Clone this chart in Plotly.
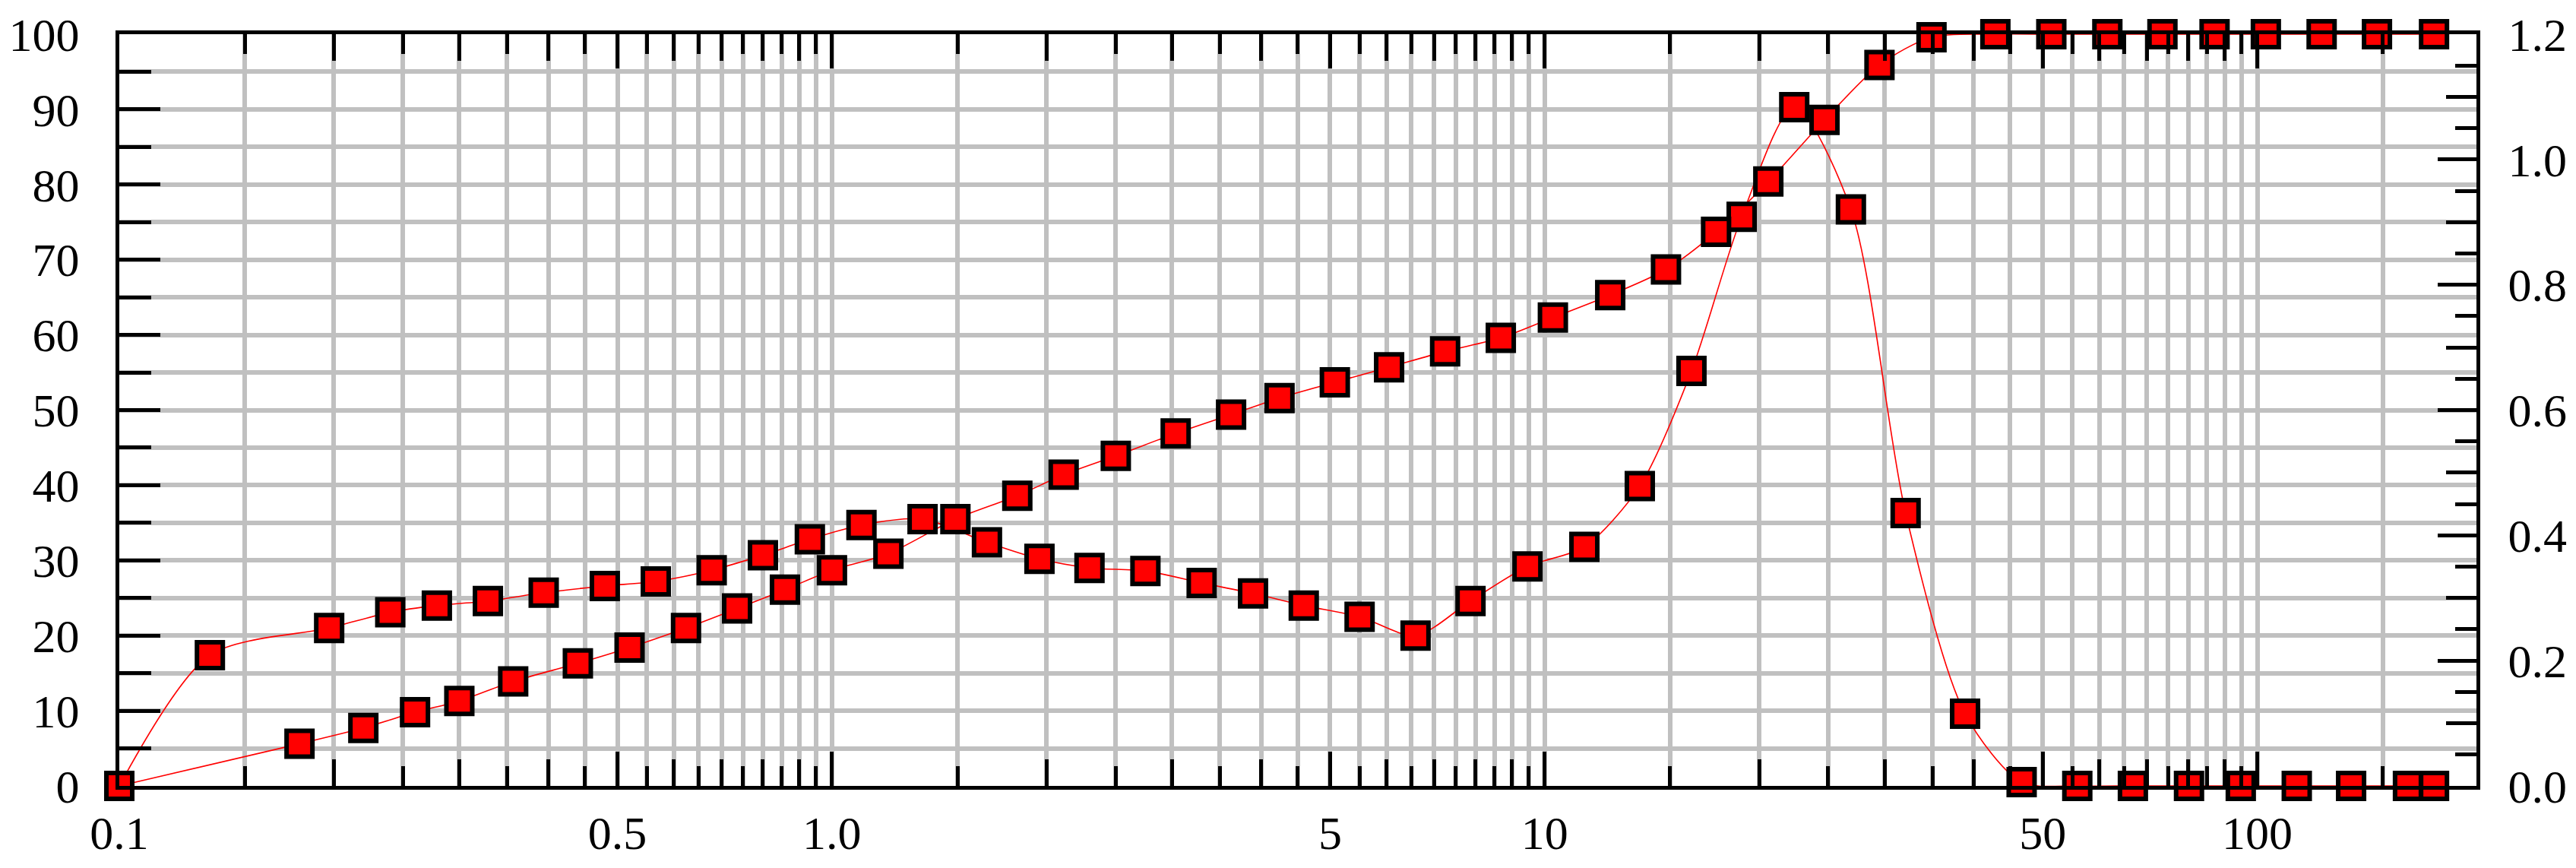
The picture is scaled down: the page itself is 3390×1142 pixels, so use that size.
"""Particle size distribution chart: frequency + cumulative curves on a log size axis.

Writes out.html (plotly.js inline).
"""

import plotly.graph_objects as go

# --------------------------------------------------------------------------------------
# Data
# --------------------------------------------------------------------------------------

# frequency curve, read in left-axis units
FREQ_SIZE = [0.1, 0.134, 0.197, 0.240, 0.279, 0.329, 0.394, 0.480, 0.566, 0.678,
             0.800, 0.931, 1.10, 1.34, 1.65, 1.955, 2.298, 2.753, 3.302, 3.898,
             4.592, 5.50, 6.59, 7.87, 9.46, 11.37, 13.6, 16.07, 18.9, 22.4,
             26.9, 32.1, 38.9, 46.7, 55.9, 66.9, 80.2, 94.8, 113.6, 135.4,
             162.7, 177.0]
FREQ_VALUE = [0, 17.4, 21.0, 23.1, 24.0, 24.6, 25.7, 26.6, 27.2, 28.7,
              30.7, 32.8, 34.7, 35.5, 32.4, 30.2, 29.0, 28.6, 27.0, 25.6,
              24.0, 22.5, 20.0, 24.6, 29.2, 31.8, 39.9, 55.2, 75.7, 90.3,
              76.7, 36.3, 9.6, 0.5, 0, 0, 0, 0, 0, 0,
              0, 0]

# cumulative curve
CUM_SIZE = [0.1, 0.179, 0.220, 0.260, 0.300, 0.357, 0.440, 0.520, 0.624, 0.736,
            0.859, 1.00, 1.20, 1.49, 1.82, 2.114, 2.502, 3.036, 3.631, 4.246,
            5.077, 6.05, 7.25, 8.68, 10.27, 12.36, 14.8, 17.4, 20.6, 24.7,
            29.5, 34.9, 42.9, 51.4, 61.6, 73.6, 87.1, 102.8, 123.1, 147.2,
            177.0]
CUM_VALUE = [0, 5.6, 7.7, 9.8, 11.3, 13.9, 16.3, 18.4, 21.0, 23.6,
             26.1, 28.7, 30.9, 35.5, 38.6, 41.4, 43.9, 46.9, 49.4, 51.6,
             53.7, 55.7, 57.8, 59.6, 62.3, 65.3, 68.7, 73.7, 80.4, 88.6,
             95.9, 99.6, 100, 100, 100, 100, 100, 100, 100, 100,
             100]

X_TICKS = [0.1, 0.5, 1, 5, 10, 50, 100]
X_TICK_TEXT = ["0.1", "0.5", "1.0", "5", "10", "50", "100"]
Y_TICKS = [0, 10, 20, 30, 40, 50, 60, 70, 80, 90, 100]
Y2_TICKS = [0, 0.2, 0.4, 0.6, 0.8, 1.0, 1.2]
Y2_TICK_TEXT = ["0.0", "0.2", "0.4", "0.6", "0.8", "1.0", "1.2"]
Y2_MID_TICKS = [0.1, 0.3, 0.5, 0.7, 0.9, 1.1]

WIDTH, HEIGHT = 3390, 1142
FONT = dict(family="Liberation Serif", size=62, color="black")
GRID = "#c0c0c0"
RED = "#ff0000"
LW = 5  # axis line / tick thickness


def _x_half_steps() -> list[float]:
    # 0.15, 0.2, ... 0.95, 1.5, ... 95, plus 150 (gridlines + short ticks)
    vals = []
    for base in (0.1, 1, 10):
        for k in range(3, 20):
            v = round(base * k / 2, 4)
            if v not in X_TICKS:
                vals.append(v)
    vals.append(150)
    return vals


def _x_whole_steps() -> list[float]:
    # 0.2, 0.3, 0.4, 0.6 ... 90 (medium ticks)
    return [round(base * k, 4) for base in (0.1, 1, 10) for k in (2, 3, 4, 6, 7, 8, 9)]


def build() -> go.Figure:
    fig = go.Figure()
    # lines first so every square sits on top of both curves
    for xs, ys in ((FREQ_SIZE, FREQ_VALUE), (CUM_SIZE, CUM_VALUE)):
        fig.add_trace(go.Scatter(
            x=xs, y=ys, mode="lines",
            line=dict(color=RED, width=1.6, shape="spline", smoothing=0.8),
            showlegend=False, hoverinfo="skip",
        ))
    for xs, ys in ((FREQ_SIZE, FREQ_VALUE), (CUM_SIZE, CUM_VALUE)):
        fig.add_trace(go.Scatter(
            x=xs, y=ys, mode="markers", cliponaxis=False,
            marker=dict(symbol="square", size=34, color=RED,
                        line=dict(color="black", width=6)),
            showlegend=False,
        ))
    # empty traces so the extra tick-only axes get drawn
    fig.add_trace(go.Scatter(x=[], y=[], yaxis="y2", showlegend=False, hoverinfo="skip"))
    fig.add_trace(go.Scatter(x=[], y=[], yaxis="y3", showlegend=False, hoverinfo="skip"))
    fig.add_trace(go.Scatter(x=[], y=[], xaxis="x2", showlegend=False, hoverinfo="skip"))

    tick_style = dict(ticks="inside", tickwidth=LW, tickcolor="black")
    line_style = dict(showline=True, linecolor="black", linewidth=LW, zeroline=False)

    fig.update_layout(
        width=WIDTH, height=HEIGHT,
        margin=dict(l=154, r=117, t=45, b=100),
        paper_bgcolor="white", plot_bgcolor="white",
        font=FONT,
        xaxis=dict(
            type="log", range=[-1, 2.3075],
            tickmode="array", tickvals=X_TICKS, ticktext=X_TICK_TEXT,
            ticklen=45, mirror="ticks", **tick_style, **line_style,
            showgrid=True, gridcolor=GRID, gridwidth=5.5,
            ticklabelstandoff=4,
            minor=dict(tickmode="array", tickvals=_x_half_steps(), ticklen=26,
                       showgrid=True, gridcolor=GRID, gridwidth=5.5, **tick_style),
        ),
        xaxis2=dict(
            type="log", range=[-1, 2.3075], overlaying="x", anchor="y",
            tickmode="array", tickvals=_x_whole_steps(), ticklen=35,
            mirror="ticks", showticklabels=False, showgrid=False,
            **tick_style, **line_style,
        ),
        yaxis=dict(
            range=[0, 100],
            tickmode="array", tickvals=Y_TICKS,
            ticklen=54, mirror=False, **tick_style, **line_style,
            showgrid=True, gridcolor=GRID, gridwidth=5.5,
            ticklabelstandoff=35,
            minor=dict(dtick=5, ticklen=42, showgrid=True, gridcolor=GRID,
                       gridwidth=5.5, **tick_style),
        ),
        yaxis2=dict(
            overlaying="y", side="right", anchor="x",
            range=[0, 1.2],
            tickmode="array", tickvals=Y2_TICKS, ticktext=Y2_TICK_TEXT,
            ticklen=51, **tick_style, **line_style,
            showgrid=False, ticklabelstandoff=24,
            minor=dict(dtick=0.05, ticklen=28, showgrid=False, **tick_style),
        ),
        yaxis3=dict(
            overlaying="y", side="right", anchor="x",
            range=[0, 1.2],
            tickmode="array", tickvals=Y2_MID_TICKS, ticklen=40,
            showticklabels=False, showgrid=False,
            **tick_style, **line_style,
        ),
    )
    return fig


if __name__ == "__main__":
    fig = build()
    fig.write_html("out.html", config={"displayModeBar": False},
                   post_script="document.body.style.margin='0';")
